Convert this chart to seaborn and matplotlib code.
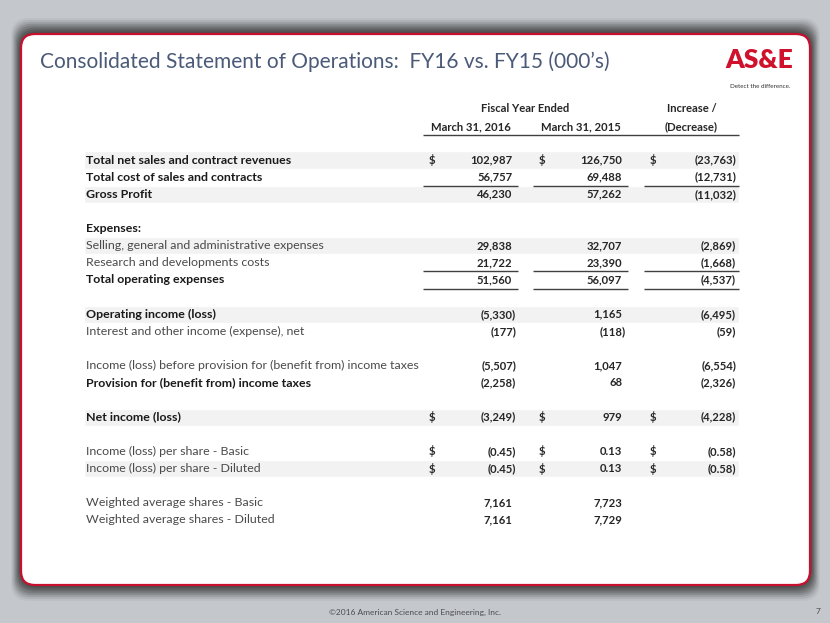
import numpy as np
import matplotlib
matplotlib.use("Agg")
import matplotlib.pyplot as plt
import seaborn as sns
from matplotlib.patches import FancyBboxPatch

# table content
labels = [
    "Total net sales and contract revenues",
    "Total cost of sales and contracts",
    "Gross Profit",
    "",
    "Expenses:",
    "Selling, general and administrative expenses",
    "Research and developments costs",
    "Total operating expenses",
    "",
    "Operating income (loss)",
    "Interest and other income (expense), net",
    "",
    "Income (loss) before provision for (benefit from) income taxes",
    "Provision for (benefit from) income taxes",
    "",
    "Net income (loss)",
    "",
    "Income (loss) per share - Basic",
    "Income (loss) per share - Diluted",
    "",
    "Weighted average shares - Basic",
    "Weighted average shares - Diluted",
]
bold_rows = [0, 1, 2, 4, 7, 9, 13, 15]
shaded_rows = [0, 2, 5, 9, 15, 18]
dollar_rows = [0, 15, 17, 18]
underline_rows = [1, 6, 7]

fy16 = [102987, 56757, 46230, None, None, 29838, 21722, 51560, None,
        -5330, -177, None, -5507, -2258, None, -3249, None,
        -0.45, -0.45, None, 7161, 7161]
fy15 = [126750, 69488, 57262, None, None, 32707, 23390, 56097, None,
        1165, -118, None, 1047, 68, None, 979, None,
        0.13, 0.13, None, 7723, 7729]
change = [-23763, -12731, -11032, None, None, -2869, -1668, -4537, None,
          -6495, -59, None, -6554, -2326, None, -4228, None,
          -0.58, -0.58, None, None, None]

col_headers = ["March 31, 2016", "March 31, 2015", "(Decrease)"]
group_headers = ["Fiscal Year Ended", "Increase /"]

title = "Consolidated Statement of Operations:  FY16 vs. FY15 (000\u2019s)"
footer = "\u00a92016 American Science and Engineering, Inc."
page_no = "7"

sns.set_theme(style="white")
plt.rcParams["font.family"] = ["Lato", "DejaVu Sans"]


def fmt(v):
    if v is None:
        return ""
    if abs(v) < 1 and v != 0:
        s = f"{abs(v):.2f}"
    else:
        s = f"{abs(v):,.0f}"
    return f"({s})" if v < 0 else s


fig = plt.figure(figsize=(8.3, 6.23), dpi=100)
fig.patch.set_facecolor("#c4c7cc")
ax = fig.add_axes([0, 0, 1, 1])
ax.set_xlim(0, 830)
ax.set_ylim(623, 0)
ax.axis("off")

# slide panel with shadow
for i, a in enumerate(np.linspace(0.05, 0.35, 8)):
    g = 10 - i * 1.2
    ax.add_patch(FancyBboxPatch((21 - g, 34 - g * 1.6), 789 + 2 * g, 551 + g * 3.2,
                                boxstyle="round,pad=0,rounding_size=18",
                                fc="#3a3a3a", ec="none", alpha=a, zorder=1))
ax.add_patch(FancyBboxPatch((21, 34), 789, 551,
                            boxstyle="round,pad=0,rounding_size=14",
                            fc="white", ec="#c8102e", lw=1.6, zorder=2))

ax.text(40, 62, title, fontsize=15, color="#4a5a78", va="center",
        ha="left", zorder=3)

# logo
ax.text(759, 60, "AS&E", fontsize=19, color="#d0112b", fontweight="heavy",
        ha="center", va="center", zorder=3)
ax.text(790, 87, "Detect the difference.", fontsize=4.5, color="#333333",
        ha="right", va="center", zorder=3)

row0, pitch = 160, 17.14
x_label = 86
band_left, band_right = 84, 739
dollar_x = [429, 539, 650]
paren_right = [516, 626, 736]
seg = [(423, 518), (533, 628), (644, 739)]
ink = "#262626"
fs_lab = 8.9
fs_num = 8.1

ys = [row0 + i * pitch for i in range(len(labels))]

# shaded bands
ax.barh([ys[i] for i in shaded_rows], band_right - band_left, left=band_left,
        height=pitch, color="#f2f2f2", zorder=2.5)

# headers
ax.text((seg[0][0] + seg[1][1]) / 2, 109, group_headers[0], fontsize=fs_num,
        fontweight="bold", color=ink, ha="center", va="center", zorder=3)
ax.text((seg[2][0] + seg[2][1]) / 2, 109, group_headers[1], fontsize=fs_num,
        fontweight="bold", color=ink, ha="center", va="center", zorder=3)
for (l, r), h in zip(seg, col_headers):
    ax.text((l + r) / 2, 127, h, fontsize=fs_num, fontweight="bold", color=ink,
            ha="center", va="center", zorder=3)
ax.hlines(135, seg[0][0], seg[2][1], color="#404040", lw=1, zorder=3)

for i, lab in enumerate(labels):
    y = ys[i]
    b = i in bold_rows
    ax.text(x_label, y, lab, fontsize=fs_lab, fontweight="bold" if b else "normal",
            color="#1a1a1a" if b else "#4a4a4a", ha="left", va="center", zorder=3)
    for c, vals in enumerate([fy16, fy15, change]):
        v = vals[i]
        if v is None:
            continue
        xr = paren_right[c] if v < 0 else paren_right[c] - 3.8
        ax.text(xr, y, fmt(v), fontsize=fs_num, fontweight="bold", color=ink,
                ha="right", va="center", zorder=3)
        if i in dollar_rows:
            ax.text(dollar_x[c], y, "$", fontsize=fs_num, fontweight="bold",
                    color=ink, ha="left", va="center", zorder=3)
    if i in underline_rows:
        for l, r in seg:
            ax.hlines(y + pitch / 2, l, r, color="#404040", lw=1, zorder=3)

ax.text(415, 612, footer, fontsize=6, color="#4d4d4d", ha="center", va="center")
ax.text(818, 612, page_no, fontsize=6, color="#4d4d4d", ha="center", va="center")

fig.savefig("out.png", dpi=100, facecolor=fig.get_facecolor())
